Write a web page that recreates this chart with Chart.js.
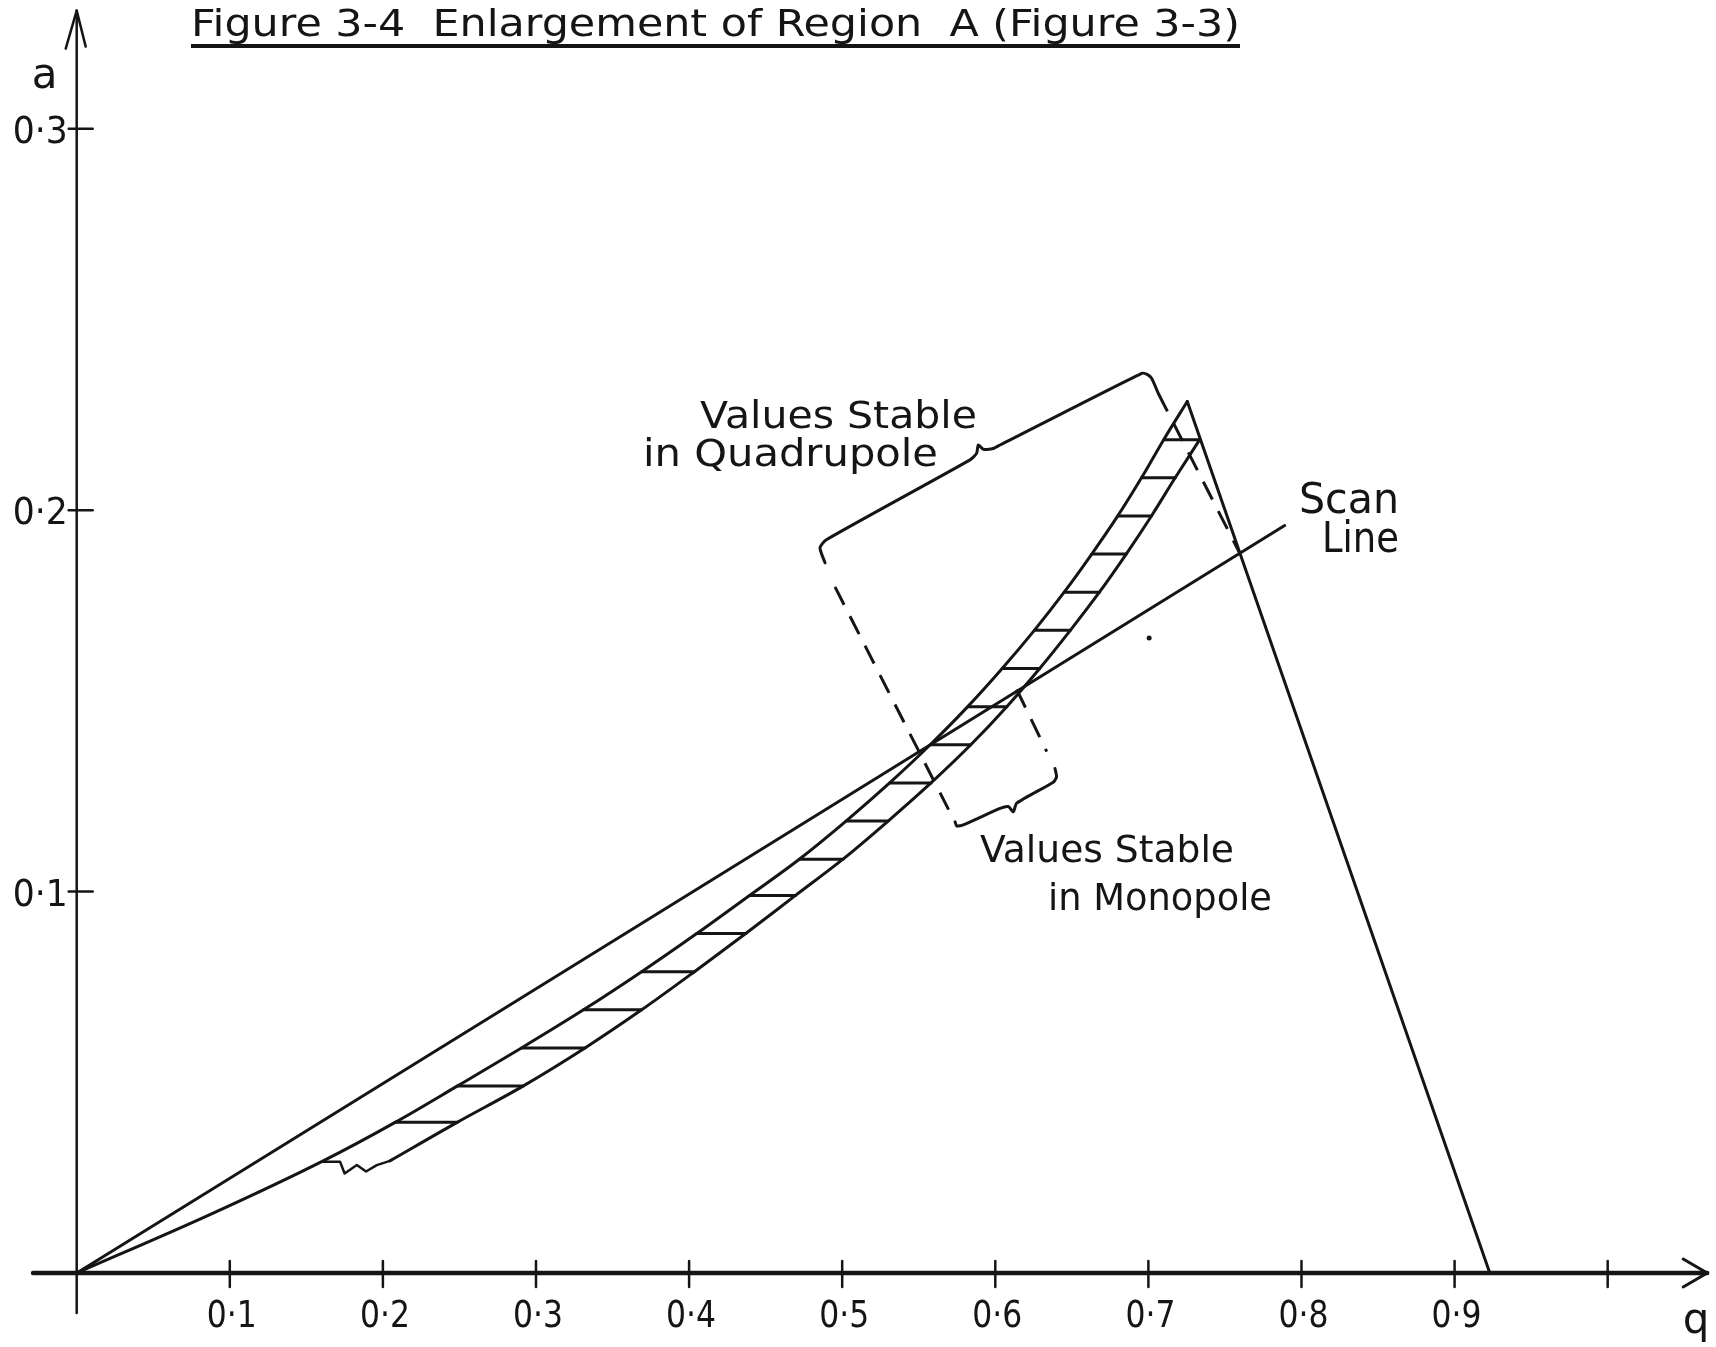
<!DOCTYPE html>
<html>
<head>
<meta charset="utf-8">
<script src="https://cdn.jsdelivr.net/npm/chart.js@4.4.0/dist/chart.umd.min.js"></script>
<style>
  html, body { margin: 0; padding: 0; background: #fff; }
  canvas { display: block; }
</style>
</head>
<body>
<canvas id="stabChart" width="1716" height="1347"></canvas>
<script>
const ink = '#151515';

// axis ticks
const qTicks = [0.1, 0.2, 0.3, 0.4, 0.5, 0.6, 0.7, 0.8, 0.9, 1.0];
const qTickLabels = ['0·1', '0·2', '0·3', '0·4', '0·5', '0·6', '0·7', '0·8', '0·9', ''];
const aTicks = [0.1, 0.2, 0.3];
const aTickLabels = ['0·1', '0·2', '0·3'];

// scan line (straight, through the origin)
const scanQ = [0, 0.789];
const scanA = [0, 0.196];

// upper-left edge of the hatched band, origin -> apex
const edgeQ = [0, 0.087, 0.161, 0.208, 0.2485, 0.2905, 0.331, 0.369, 0.405, 0.4395, 0.472, 0.5025, 0.531, 0.5575, 0.582, 0.6045, 0.6255, 0.645, 0.663, 0.680, 0.6955, 0.710, 0.7254];
const edgeA = [0, 0.0153, 0.0294, 0.0395, 0.049, 0.059, 0.069, 0.079, 0.089, 0.099, 0.1085, 0.1185, 0.1285, 0.1385, 0.1485, 0.1585, 0.1685, 0.1785, 0.1885, 0.1985, 0.2085, 0.2185, 0.2285];

// lower-right edge of the band
const innerQ = [0.2046, 0.2485, 0.2915, 0.332, 0.369, 0.4035, 0.437, 0.4695, 0.5005, 0.530, 0.558, 0.584, 0.6075, 0.629, 0.649, 0.668, 0.6855, 0.702, 0.7175, 0.7335];
const innerA = [0.0294, 0.0395, 0.049, 0.059, 0.069, 0.079, 0.089, 0.099, 0.1085, 0.1185, 0.1285, 0.1385, 0.1485, 0.1585, 0.1685, 0.1785, 0.1885, 0.1985, 0.2085, 0.2185];

// hatch rungs
const hatchA = [0.0395, 0.049, 0.059, 0.069, 0.079, 0.089, 0.099, 0.1085, 0.1185, 0.1285, 0.1385, 0.1485, 0.1585, 0.1685, 0.1785, 0.1885, 0.1985, 0.2085, 0.2185];
const hatchLeftQ = [0.208, 0.2485, 0.2905, 0.331, 0.369, 0.405, 0.4395, 0.472, 0.5025, 0.531, 0.5575, 0.582, 0.6045, 0.6255, 0.645, 0.663, 0.680, 0.6955, 0.710];
const hatchRightQ = [0.2485, 0.2915, 0.332, 0.369, 0.4035, 0.437, 0.4695, 0.5005, 0.530, 0.558, 0.584, 0.6075, 0.629, 0.649, 0.668, 0.6855, 0.702, 0.7175, 0.7335];

// wavy bottom rung
const wavyQ = [0.161, 0.172, 0.175, 0.183, 0.189, 0.196, 0.2046];
const wavyA = [0.0292, 0.0292, 0.0261, 0.0283, 0.0266, 0.0283, 0.0294];

// falling boundary, apex -> q axis
const fallQ = [0.7254, 0.923];
const fallA = [0.2285, 0];

// dashed guide lines
const dashApexQ = [0.7065, 0.7597];
const dashApexA = [0.2306, 0.1887];
const dashLeftQ = [0.4953, 0.5695];
const dashLeftA = [0.1799, 0.1215];
const dashRightQ = [0.614, 0.6336];
const dashRightA = [0.153, 0.1367];

// brace brackets
const quadBraceQ = [0.4888, 0.4855, 0.4894, 0.5835, 0.5878, 0.5889, 0.5922, 0.5987, 0.6031, 0.6956, 0.6989, 0.7021, 0.7065];
const quadBraceA = [0.1862, 0.1901, 0.1922, 0.2132, 0.2149, 0.2171, 0.2160, 0.2162, 0.2171, 0.2359, 0.2357, 0.2346, 0.2306];
const monoBraceQ = [0.639, 0.640, 0.6379, 0.614, 0.6118, 0.6085, 0.6031, 0.5791, 0.5748, 0.5737];
const monoBraceA = [0.1323, 0.1301, 0.1287, 0.1232, 0.1209, 0.1223, 0.1218, 0.1175, 0.1172, 0.1183];

const dotQ = [0.7005];
const dotA = [0.1665];

const toPts = (qs, as) => qs.map((q, i) => ({ x: q, y: as[i] }));

const lineSet = (pts, extra) => Object.assign({
    data: pts,
    showLine: true,
    borderColor: ink,
    borderWidth: 3,
    pointRadius: 0,
    fill: false,
    tension: 0,
    borderCapStyle: 'round',
    borderJoinStyle: 'round'
}, extra || {});

const datasets = [
    lineSet(toPts(scanQ, scanA)),
    lineSet(toPts(edgeQ, edgeA), { cubicInterpolationMode: 'monotone' }),
    lineSet(toPts(innerQ, innerA), { cubicInterpolationMode: 'monotone' }),
    lineSet(toPts(fallQ, fallA)),
    lineSet(toPts(wavyQ, wavyA), { borderWidth: 2.5 }),
    lineSet(toPts(dashApexQ, dashApexA), { borderDash: [20, 13], borderCapStyle: 'butt' }),
    lineSet(toPts(dashLeftQ, dashLeftA), { borderDash: [20, 13], borderCapStyle: 'butt' }),
    lineSet(toPts(dashRightQ, dashRightA), { borderDash: [20, 13], borderCapStyle: 'butt' }),
    lineSet(toPts(quadBraceQ, quadBraceA), { tension: 0.2 }),
    lineSet(toPts(monoBraceQ, monoBraceA), { tension: 0.2 }),
    { data: toPts(dotQ, dotA), showLine: false, pointRadius: 2.5, backgroundColor: ink, borderWidth: 0 }
];
hatchA.forEach((a, i) => {
    datasets.push(lineSet([{ x: hatchLeftQ[i], y: a }, { x: hatchRightQ[i], y: a }], { borderWidth: 3 }));
});

function fitText(ctx, str, x, y, size, width, align) {
    ctx.save();
    ctx.font = size + 'px "DejaVu Sans"';
    const w = ctx.measureText(str).width;
    const sx = width ? width / w : 1;
    ctx.translate(x, y);
    ctx.scale(sx, 1);
    ctx.textAlign = align || 'left';
    ctx.textBaseline = 'alphabetic';
    ctx.fillStyle = ink;
    ctx.fillText(str, 0, 0);
    ctx.restore();
}

const notes = [
    { t: 'Values Stable', x: 700, y: 428, size: 37, w: 277 },
    { t: 'in Quadrupole', x: 643, y: 466, size: 37, w: 295 },
    { t: 'Scan', x: 1399, y: 513, size: 42, w: 100, align: 'right' },
    { t: 'Line', x: 1399, y: 552, size: 42, w: 77, align: 'right' },
    { t: 'Values Stable', x: 980, y: 862, size: 38, w: 254 },
    { t: 'in Monopole', x: 1048, y: 910, size: 38, w: 224 }
];

// hand-drawn style axes with crossing ticks and open arrowheads
const handAxes = {
    id: 'handAxes',
    beforeDatasetsDraw(chart) {
        const { ctx, scales: { x, y } } = chart;
        const x0 = x.getPixelForValue(0);
        const y0 = y.getPixelForValue(0);
        ctx.save();
        ctx.strokeStyle = ink;
        ctx.lineCap = 'round';
        ctx.lineJoin = 'round';

        // q axis
        ctx.lineWidth = 4.5;
        ctx.beginPath();
        ctx.moveTo(x.getPixelForValue(-0.0285), y0);
        ctx.lineTo(x.right, y0);
        ctx.stroke();
        ctx.lineWidth = 3;
        ctx.beginPath();
        ctx.moveTo(x.right - 24, y0 - 14);
        ctx.lineTo(x.right, y0);
        ctx.lineTo(x.right - 24, y0 + 14);
        ctx.stroke();

        // a axis
        ctx.lineWidth = 2.5;
        ctx.beginPath();
        ctx.moveTo(x0, y.getPixelForValue(-0.0105));
        ctx.lineTo(x0, y.top);
        ctx.stroke();
        ctx.beginPath();
        ctx.moveTo(x0 - 11, y.top + 38);
        ctx.lineTo(x0, y.top);
        ctx.lineTo(x0 + 9, y.top + 36);
        ctx.stroke();

        // ticks
        ctx.lineWidth = 2.5;
        qTicks.forEach((q, i) => {
            const px = x.getPixelForValue(q);
            ctx.beginPath();
            ctx.moveTo(px, y0 - 12);
            ctx.lineTo(px, y0 + 14);
            ctx.stroke();
            if (qTickLabels[i]) fitText(ctx, qTickLabels[i], px + 2, y0 + 54, 37, 50, 'center');
        });
        aTicks.forEach((a, i) => {
            const py = y.getPixelForValue(a);
            ctx.beginPath();
            ctx.moveTo(x0 - 8, py);
            ctx.lineTo(x0 + 16, py);
            ctx.stroke();
            fitText(ctx, aTickLabels[i], x0 - 9, py + 14, 37, 55, 'right');
        });

        // axis names
        fitText(ctx, 'a', x0 - 32, y.top + 77, 42, 0, 'center');
        fitText(ctx, 'q', x.right - 11, y0 + 60, 42, 0, 'center');
        ctx.restore();
    },
    afterDraw(chart) {
        const ctx = chart.ctx;
        // title with underline
        fitText(ctx, 'Figure 3-4  Enlargement of Region  A (Figure 3-3)', 191, 36, 38, 1049, 'left');
        ctx.save();
        ctx.strokeStyle = ink;
        ctx.lineWidth = 4;
        ctx.beginPath();
        ctx.moveTo(191, 46);
        ctx.lineTo(1240, 46);
        ctx.stroke();
        ctx.restore();
        notes.forEach(n => fitText(ctx, n.t, n.x, n.y, n.size, n.w, n.align));
    }
};

new Chart(document.getElementById('stabChart'), {
    type: 'scatter',
    data: { datasets: datasets },
    options: {
        responsive: false,
        animation: false,
        events: [],
        layout: { padding: { left: 76.7, right: 8.8, top: 10.6, bottom: 74 } },
        scales: {
            x: { type: 'linear', min: 0, max: 1.065, display: false },
            y: { type: 'linear', min: 0, max: 0.331, display: false }
        },
        plugins: {
            legend: { display: false },
            tooltip: { enabled: false }
        }
    },
    plugins: [handAxes]
});
</script>
</body>
</html>
